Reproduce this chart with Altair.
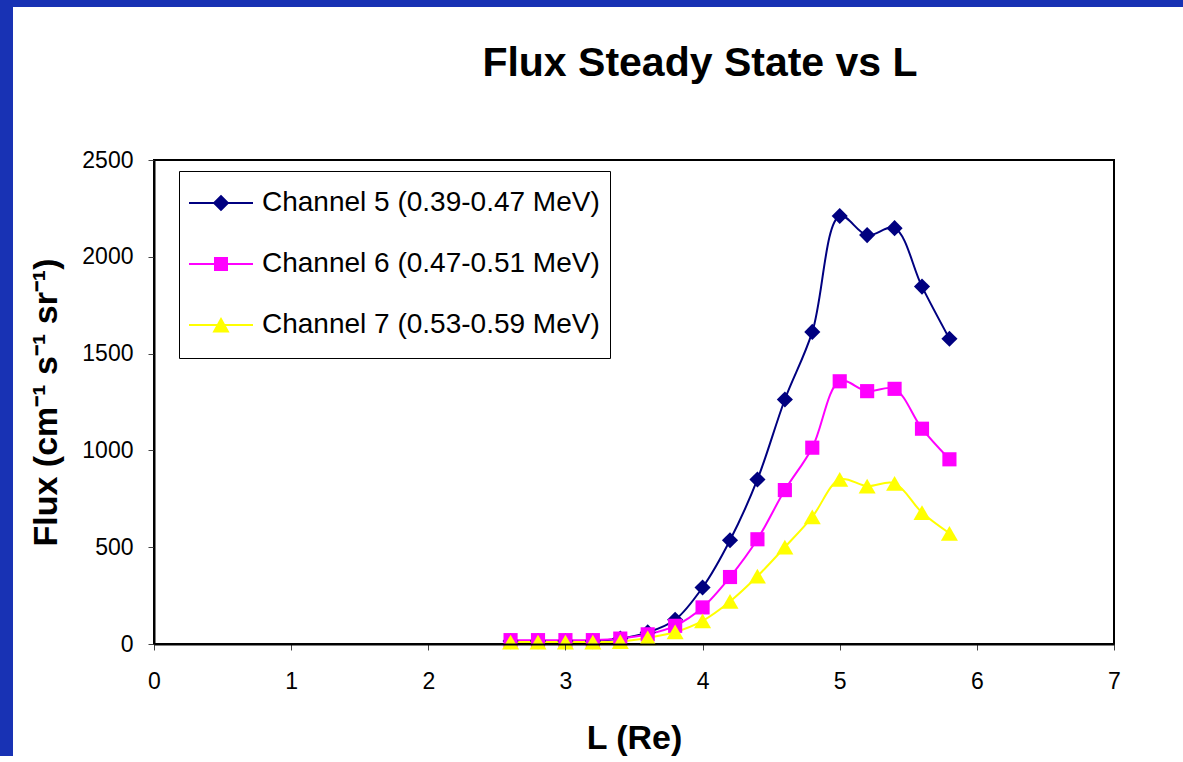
import altair as alt
import pandas as pd

# ---- data ----
L_VALUES = [2.6, 2.8, 3.0, 3.2, 3.4, 3.6, 3.8, 4.0, 4.2, 4.4, 4.6, 4.8, 5.0, 5.2, 5.4, 5.6, 5.8]
CH5 = [15, 15, 15, 15, 28, 60, 125, 292, 536, 850, 1263, 1612, 2211, 2112, 2148, 1846, 1577]
CH6 = [20, 20, 20, 20, 28, 50, 94, 189, 346, 541, 795, 1014, 1357, 1306, 1318, 1112, 954]
CH7 = [10, 10, 10, 10, 12, 32, 62, 120, 220, 350, 500, 657, 850, 816, 830, 679, 572]
SERIES = ["Channel 5 (0.39-0.47 MeV)", "Channel 6 (0.47-0.51 MeV)", "Channel 7 (0.53-0.59 MeV)"]
X_TICKS = [0, 1, 2, 3, 4, 5, 6, 7]
Y_TICKS = [0, 500, 1000, 1500, 2000, 2500]

# ---- styles ----
COLORS = ["#000080", "#FF00FF", "#FFFF00"]
SHAPES = ["diamond", "square", "triangle-up"]
SIZES = [260, 200, 290]
EXT = "M0,1.03L0,1.03"
LINE = "M-1.4545,-0.045H1.4545V0.045H-1.4545Z"
LEGEND_PATHS = [
    EXT + LINE + "M0,-0.377L0.377,0L0,0.377L-0.377,0Z",
    EXT + LINE + "M-0.318,-0.318H0.318V0.318H-0.318Z",
    EXT + LINE + "M0,-0.364L0.39,0.34L-0.39,0.34Z",
]
FONT = "Liberation Sans, Arial, sans-serif"
BLUE = "#1832B4"
W, H = 960, 484

rows = []
for name, vals in zip(SERIES, [CH5, CH6, CH7]):
    for l, v in zip(L_VALUES, vals):
        rows.append({"L": l, "flux": v, "series": name})
df = pd.DataFrame(rows)

x_enc = alt.X("L:Q", scale=alt.Scale(domain=[0, 7], nice=False),
              axis=alt.Axis(values=X_TICKS, format="d", title="L (Re)", labelPadding=20,
                            titlePadding=28, labelFlush=False, zindex=1))
y_enc = alt.Y("flux:Q", scale=alt.Scale(domain=[0, 2500], nice=False),
              axis=alt.Axis(values=Y_TICKS, format="d", title="Flux (cm⁻¹ s⁻¹ sr⁻¹)",
                            labelPadding=15, titlePadding=18, zindex=1))

base = alt.Chart(df)

band_df = pd.DataFrame({"k": [0]})
left_band = alt.Chart(band_df).mark_rect(color=BLUE).encode(
    x=alt.value(-154), x2=alt.value(-141), y=alt.value(-160), y2=alt.value(596))
top_band = alt.Chart(band_df).mark_rect(color=BLUE).encode(
    x=alt.value(-154), x2=alt.value(1029), y=alt.value(-160), y2=alt.value(-153))

lines = base.mark_line(interpolate="catmull-rom", strokeWidth=2).encode(
    x=x_enc, y=y_enc,
    stroke=alt.Stroke("series:N", scale=alt.Scale(range=COLORS), legend=None))

point_layers = []
for name, shape, size in zip(SERIES, SHAPES, SIZES):
    point_layers.append(
        base.transform_filter(alt.datum.series == name)
        .mark_point(shape=shape, filled=True, size=size, opacity=1)
        .encode(x=x_enc, y=y_enc,
                fill=alt.Fill("series:N", scale=alt.Scale(range=COLORS), legend=None)))

legend_layer = base.transform_filter("datum.flux < 0").mark_point(filled=True, opacity=1).encode(
    x=x_enc, y=y_enc,
    color=alt.Color("series:N", scale=alt.Scale(domain=SERIES, range=COLORS),
                    legend=alt.Legend(title=None)),
    shape=alt.Shape("series:N", scale=alt.Scale(domain=SERIES, range=LEGEND_PATHS),
                    legend=alt.Legend(title=None)))

chart = alt.layer(left_band, top_band, lines, *point_layers, legend_layer).properties(
    width=W, height=H, padding=0, background="white",
    title=alt.Title("Flux Steady State vs L", fontSize=41, font=FONT, fontWeight="bold",
                    anchor="middle", frame="group", dx=66, offset=-117,
                    baseline="alphabetic", color="black"),
).configure_view(
    stroke="black", strokeWidth=2
).configure_axis(
    domainColor="black", domainWidth=2, tickColor="#444", tickWidth=1, tickSize=6,
    labelFont=FONT, labelFontSize=23, labelColor="black",
    titleFont=FONT, titleFontSize=34, titleFontWeight="bold", titleColor="black",
    grid=False
).configure_legend(
    orient="none", legendX=25, legendY=11, padding=10, rowPadding=16, labelOffset=19,
    symbolOffset=10, symbolSize=1936, labelFontSize=28, labelFont=FONT, labelColor="black",
    labelLimit=600, strokeColor="black", fillColor="white", symbolStrokeWidth=0,
    cornerRadius=0
)

chart.save("out.html", embed_options={"renderer": "svg", "actions": False})
